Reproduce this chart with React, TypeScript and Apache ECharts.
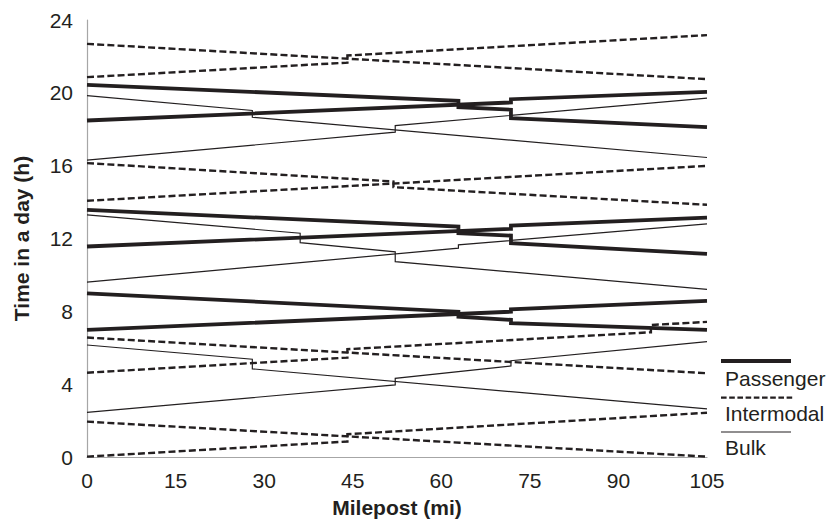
import React, { useEffect, useRef } from "react";
import * as echarts from "echarts";

// x-axis ticks (milepost) and y-axis ticks (hour of day)
const xTicks = [0, 15, 30, 45, 60, 75, 90, 105];
const yTicks = [0, 4, 8, 12, 16, 20, 24];

// Passenger trains [milepost, hour]
const passengerDown1 = [[0, 20.44], [62.9, 19.56], [62.9, 19.21], [71.8, 19.07], [71.8, 18.61], [105, 18.12]];
const passengerUp1 = [[0, 18.48], [71.8, 19.47], [71.8, 19.65], [105, 20.05]];
const passengerDown2 = [[0, 13.57], [62.9, 12.65], [62.9, 12.29], [71.8, 12.16], [71.8, 11.74], [105, 11.15]];
const passengerUp2 = [[0, 11.56], [71.8, 12.53], [71.8, 12.71], [105, 13.15]];
const passengerDown3 = [[0, 8.99], [62.9, 7.98], [62.9, 7.71], [71.8, 7.53], [71.8, 7.35], [105, 6.98]];
const passengerUp3 = [[0, 6.98], [71.8, 7.98], [71.8, 8.11], [105, 8.57]];

// Intermodal trains
const intermodalDown1 = [[0, 22.69], [105, 20.75]];
const intermodalUp1 = [[0, 20.86], [44.1, 21.66], [44.1, 22.05], [105, 23.17]];
const intermodalDown2 = [[0, 16.14], [51.9, 15.13], [51.9, 14.82], [105, 13.85]];
const intermodalUp2 = [[0, 14.07], [105, 15.99]];
const intermodalDown3 = [[0, 6.56], [105, 4.6]];
const intermodalUp3 = [[0, 4.63], [44.1, 5.46], [44.1, 5.92], [95.5, 6.85], [95.5, 7.25], [105, 7.42]];
const intermodalDown4 = [[0, 1.94], [105, 0.02]];
const intermodalUp4 = [[0, 0.02], [44.1, 0.85], [44.1, 1.25], [105, 2.43]];

// Bulk trains
const bulkDown1 = [[0, 19.85], [28, 19.03], [28, 18.66], [105, 16.45]];
const bulkUp1 = [[0, 16.3], [52.2, 17.84], [52.2, 18.2], [105, 19.71]];
const bulkDown2 = [[0, 13.3], [36.1, 12.29], [36.1, 11.77], [52.2, 11.27], [52.2, 10.73], [105, 9.21]];
const bulkUp2 = [[0, 9.6], [62.9, 11.47], [62.9, 11.65], [105, 12.8]];
const bulkDown3 = [[0, 6.15], [28, 5.37], [28, 4.84], [105, 2.64]];
const bulkUp3 = [[0, 2.45], [52.2, 3.96], [52.2, 4.32], [71.8, 5.0], [71.8, 5.29], [105, 6.34]];

const passengerTrains = [passengerDown1, passengerUp1, passengerDown2, passengerUp2, passengerDown3, passengerUp3];
const intermodalTrains = [intermodalDown1, intermodalUp1, intermodalDown2, intermodalUp2, intermodalDown3, intermodalUp3, intermodalDown4, intermodalUp4];
const bulkTrains = [bulkDown1, bulkUp1, bulkDown2, bulkUp2, bulkDown3, bulkUp3];

const legendNames = ["Passenger", "Intermodal", "Bulk"];

const INK = "#231f20";
const FONT = "'Liberation Sans', Arial, Helvetica, sans-serif";

export default function App() {
  const ref = useRef<HTMLDivElement>(null);

  useEffect(() => {
    if (!ref.current) return;
    const chart = echarts.init(ref.current, undefined, { renderer: "svg" });

    const mk = (data: number[][], name: string, width: number, type: any) => ({
      type: "line",
      name,
      data,
      showSymbol: false,
      symbol: "none",
      silent: true,
      lineStyle: { color: INK, width, type, cap: "butt", join: "miter" },
    });

    const series: any[] = [];
    bulkTrains.forEach((d) => series.push(mk(d, "Bulk", 1.2, "solid")));
    intermodalTrains.forEach((d) => series.push(mk(d, "Intermodal", 2.4, [7, 3.2])));
    passengerTrains.forEach((d) => series.push(mk(d, "Passenger", 3.8, "solid")));

    const lx = 721;
    const legendRows = [
      { y: 361, len: 70, width: 3.8, dash: null as any, label: legendNames[0], ty: 378 },
      { y: 397.7, len: 73, width: 2.2, dash: [5.6, 2.6], label: legendNames[1], ty: 413.5 },
      { y: 432, len: 70, width: 1.2, dash: null as any, label: legendNames[2], ty: 447 },
    ];
    const graphic: any[] = [];
    legendRows.forEach((r) => {
      graphic.push({
        type: "line",
        shape: { x1: lx, y1: r.y, x2: lx + r.len, y2: r.y },
        style: { stroke: INK, lineWidth: r.width, lineDash: r.dash || undefined },
        silent: true,
      });
      graphic.push({
        type: "text",
        x: 725,
        y: r.ty,
        style: {
          text: r.label,
          fill: INK,
          font: `21px ${FONT}`,
          textVerticalAlign: "middle",
          textAlign: "left",
        },
        silent: true,
      });
    });

    chart.setOption({
      animation: false,
      backgroundColor: "#ffffff",
      grid: { left: 87, right: 123, top: 20, bottom: 66, containLabel: false },
      xAxis: {
        type: "value",
        min: xTicks[0],
        max: xTicks[xTicks.length - 1],
        interval: xTicks[1] - xTicks[0],
        name: "Milepost (mi)",
        nameLocation: "middle",
        nameGap: 40,
        nameTextStyle: { fontFamily: FONT, fontSize: 21, fontWeight: "bold", color: INK },
        axisLine: { show: true, lineStyle: { color: "#a6a6a6", width: 1.2 } },
        axisTick: { show: false },
        splitLine: { show: false },
        axisLabel: { fontFamily: FONT, fontSize: 21, color: INK, margin: 13 },
      },
      yAxis: {
        type: "value",
        min: yTicks[0],
        max: yTicks[yTicks.length - 1],
        interval: yTicks[1] - yTicks[0],
        name: "Time in a day (h)",
        nameLocation: "middle",
        nameGap: 55,
        nameTextStyle: { fontFamily: FONT, fontSize: 21, fontWeight: "bold", color: INK },
        axisLine: { show: true, lineStyle: { color: "#a6a6a6", width: 1.2 } },
        axisTick: { show: false },
        splitLine: { show: false },
        axisLabel: { fontFamily: FONT, fontSize: 21, color: INK, margin: 14 },
      },
      series,
      graphic,
    });

    return () => chart.dispose();
  }, []);

  return <div ref={ref} style={{ width: 830, height: 523, position: "absolute", left: 0, top: 0 }} />;
}
